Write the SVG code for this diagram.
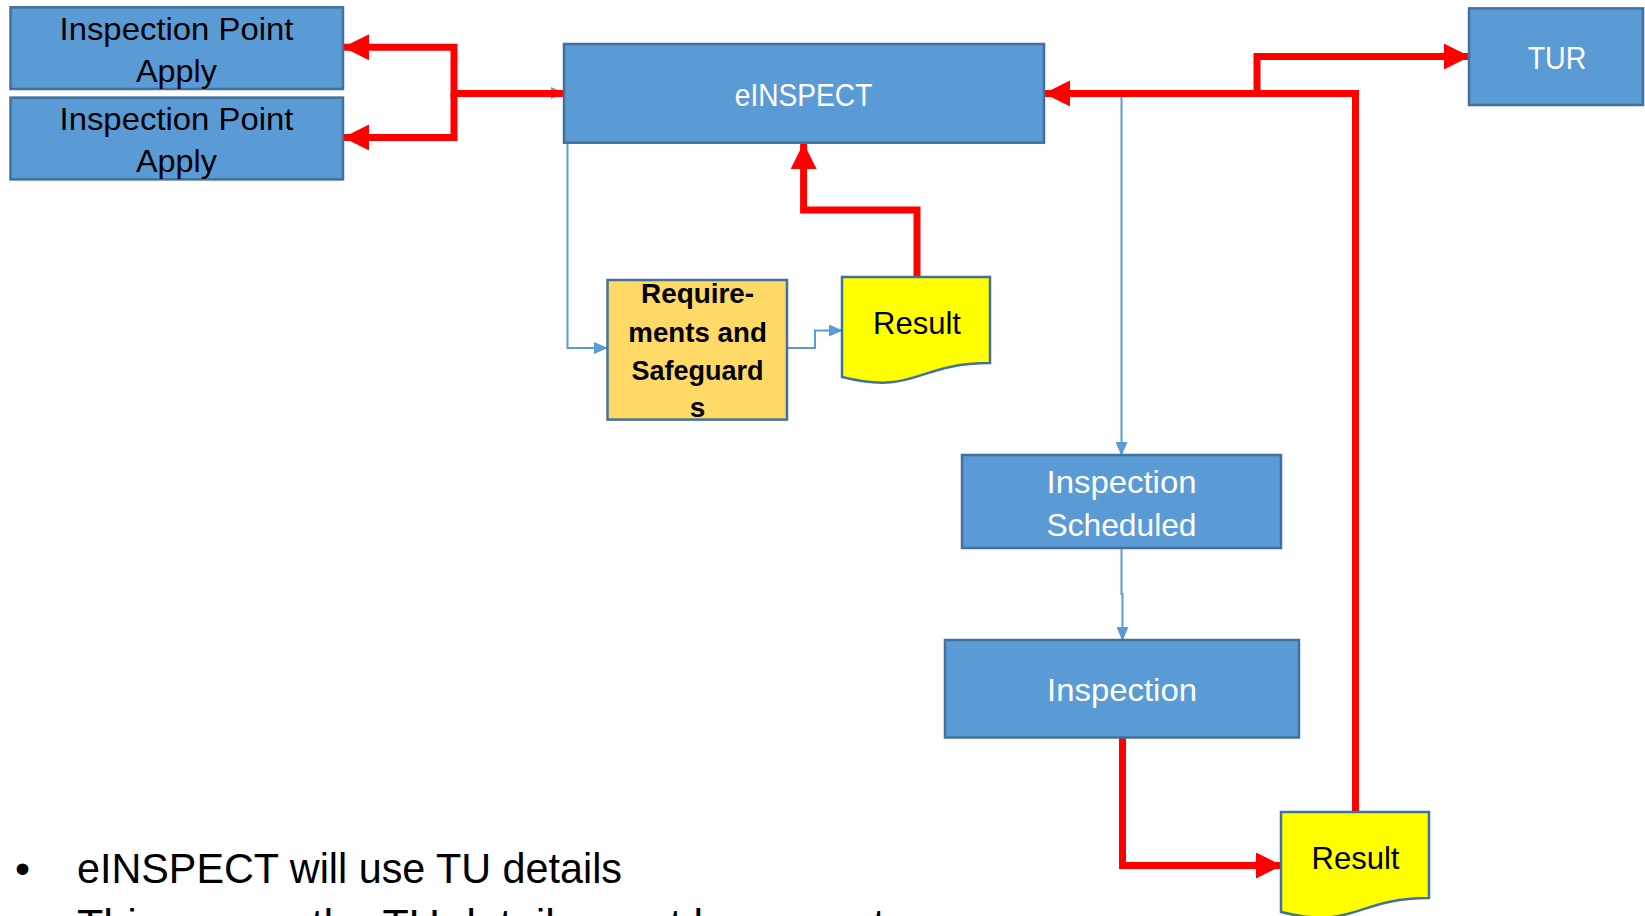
<svg xmlns="http://www.w3.org/2000/svg" width="1645" height="916" viewBox="0 0 1645 916">
<style>
.box{fill:#5B9BD5;stroke:#41719C;stroke-width:2.5}
.req{fill:#FFD966;stroke:#41719C;stroke-width:2.5}
.doc{fill:#FFFF00;stroke:#41719C;stroke-width:2.5}
.wt{font-family:"Liberation Sans",Arial,sans-serif;font-size:32px;fill:#FFFFFF;text-anchor:middle}
.bt{font-family:"Liberation Sans",Arial,sans-serif;font-size:32px;fill:#000000;text-anchor:middle}
.bb{font-family:"Liberation Sans",Arial,sans-serif;font-size:28px;font-weight:bold;fill:#000000;text-anchor:middle}
.bul{font-family:"Liberation Sans",Arial,sans-serif;font-size:43px;fill:#000000}
.red{fill:none;stroke:#FF0000;stroke-width:7;stroke-linejoin:miter}
.blue{fill:none;stroke:#5B9BD5;stroke-width:2}
</style>
<defs>
<marker id="ra" markerUnits="userSpaceOnUse" markerWidth="26" markerHeight="26" viewBox="0 0 26 26" refX="25" refY="13" orient="auto">
<path d="M0,0 L26,13 L0,26 Z" fill="#FF0000"/>
</marker>
<marker id="ba" markerUnits="userSpaceOnUse" markerWidth="14" markerHeight="12" viewBox="0 0 14 12" refX="13" refY="6" orient="auto">
<path d="M0,0 L14,6 L0,12 Z" fill="#5B9BD5"/>
</marker>
</defs>

<g id="connectors">
<path class="blue" d="M540,93 L564,93" marker-end="url(#ba)"/>
<path class="blue" d="M567.5,143 L567.5,348 L607,348" marker-end="url(#ba)"/>
<path class="blue" d="M787,348 L815,348 L815,330.5 L842,330.5" marker-end="url(#ba)"/>
<path class="blue" d="M1121.5,93 L1121.5,455" marker-end="url(#ba)"/>
<path class="blue" d="M1121.5,548 L1121.5,594 L1122.5,594 L1122.5,640" marker-end="url(#ba)"/>
<path class="red" d="M564,93.4 L454,93.4 L454,47.2 L344,47.2" marker-end="url(#ra)"/>
<path class="red" d="M454,93.4 L454,137.4 L344,137.4" marker-end="url(#ra)"/>
<path class="red" d="M917,277 L917,210 L803.6,210 L803.6,144" marker-end="url(#ra)"/>
<path class="red" d="M1355.5,812 L1355.5,93.4 L1045,93.4" marker-end="url(#ra)"/>
<path class="red" d="M1257,93.4 L1257,56.6 L1469,56.6" marker-end="url(#ra)"/>
<path class="red" d="M1122.5,737.5 L1122.5,865.5 L1281,865.5" marker-end="url(#ra)"/>
</g>

<g id="ipa1">
<rect class="box" x="10.5" y="7.3" width="332.5" height="81.7"/>
<text class="bt" x="176.5" y="40" textLength="234" lengthAdjust="spacingAndGlyphs">Inspection Point</text>
<text class="bt" x="176.5" y="82" textLength="81" lengthAdjust="spacingAndGlyphs">Apply</text>
</g>
<g id="ipa2">
<rect class="box" x="10.5" y="97.6" width="332.5" height="81.8"/>
<text class="bt" x="176.5" y="130" textLength="234" lengthAdjust="spacingAndGlyphs">Inspection Point</text>
<text class="bt" x="176.5" y="172" textLength="81" lengthAdjust="spacingAndGlyphs">Apply</text>
</g>
<g id="einspect">
<rect class="box" x="564" y="44" width="480" height="98.7"/>
<text class="wt" x="803.6" y="106" textLength="137.5" lengthAdjust="spacingAndGlyphs">eINSPECT</text>
</g>
<g id="tur">
<rect class="box" x="1469" y="8.4" width="174" height="96.6"/>
<text class="wt" x="1557" y="69" textLength="58.7" lengthAdjust="spacingAndGlyphs">TUR</text>
</g>
<g id="requirements">
<rect class="req" x="607.5" y="280" width="179.5" height="139.6"/>
<text class="bb" x="697.6" y="303" textLength="113" lengthAdjust="spacingAndGlyphs">Require-</text>
<text class="bb" x="697.6" y="342" textLength="138.5" lengthAdjust="spacingAndGlyphs">ments and</text>
<text class="bb" x="697.6" y="380" textLength="132" lengthAdjust="spacingAndGlyphs">Safeguard</text>
<text class="bb" x="697.6" y="417">s</text>
</g>
<g id="result1">
<path class="doc" d="M842,277 L990,277 L990,363 C916,363 916,395.5 842,377 Z"/>
<text class="bt" x="917" y="333.6" textLength="88" lengthAdjust="spacingAndGlyphs">Result</text>
</g>
<g id="scheduled">
<rect class="box" x="962" y="455" width="319" height="93"/>
<text class="wt" x="1121.5" y="493" textLength="150" lengthAdjust="spacingAndGlyphs">Inspection</text>
<text class="wt" x="1121.5" y="536" textLength="150" lengthAdjust="spacingAndGlyphs">Scheduled</text>
</g>
<g id="inspection">
<rect class="box" x="945" y="640" width="354" height="97.5"/>
<text class="wt" x="1122" y="701" textLength="150" lengthAdjust="spacingAndGlyphs">Inspection</text>
</g>
<g id="result2">
<path class="doc" d="M1281,812 L1429,812 L1429,898 C1355,898 1355,930.5 1281,912 Z"/>
<text class="bt" x="1355.5" y="868.6" textLength="88" lengthAdjust="spacingAndGlyphs">Result</text>
</g>
<g id="bullets">
<text class="bul" x="15" y="883">•</text>
<text class="bul" x="77" y="883" textLength="545" lengthAdjust="spacingAndGlyphs">eINSPECT will use TU details</text>
<text class="bul" x="15" y="939">•</text>
<text class="bul" x="77" y="939" textLength="808" lengthAdjust="spacingAndGlyphs">This means the TU details must be correct</text>
</g>
</svg>
